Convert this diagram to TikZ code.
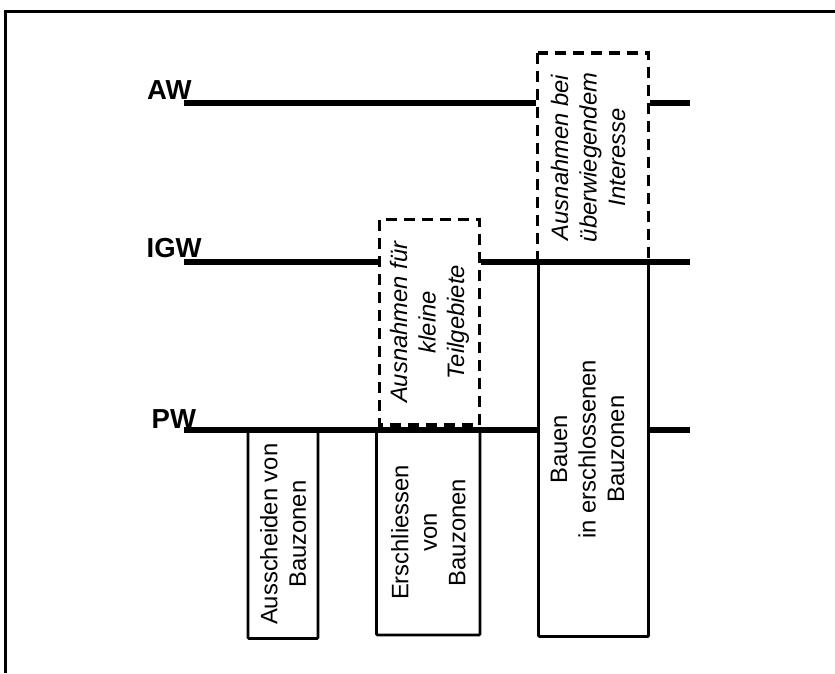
\documentclass[tikz,border=0pt]{standalone}
\usepackage{fontspec}
\setmainfont{Liberation Sans}
\begin{document}
\begin{tikzpicture}[x=1pt,y=-1pt,
  level/.style={line width=6pt},
  frameline/.style={line width=3pt},
  solidbox/.style={draw, line width=2.8pt, fill=white, rounded corners=1pt, rotate=90,
    align=center, inner sep=0pt, font=\fontsize{23.8}{28.5}\selectfont},
  dashbox/.style={draw, line width=3.5pt, dash pattern=on 11pt off 7pt, fill=white, rotate=90,
    align=center, inner sep=0pt, font=\fontsize{23.8}{28.5}\selectfont\itshape},
  lbl/.style={anchor=base west, inner sep=0pt, font=\fontsize{27.5}{30}\selectfont\bfseries}]
\useasboundingbox (0,0) rectangle (835,673);
% frame
\coordinate (fTR) at (835,11);
\coordinate (fTL) at (5.5,11);
\coordinate (fBL) at (5.5,673);
\draw[frameline] (fTR) -- (fTL) -- (fBL);
% boxes
\node[solidbox, minimum width=208.5pt, minimum height=70pt] (aus) at (283,534.25) {Ausscheiden von\\Bauzonen};
\node[solidbox, minimum width=205pt, minimum height=103.5pt] (ers) at (428.25,532.5) {Erschliessen\\von\\Bauzonen};
\node[solidbox, text depth=12pt, minimum width=374.5pt, minimum height=110pt] (bau) at (593.5,449.25) {Bauen\\in erschlossenen\\Bauzonen};
\node[dashbox, text depth=10pt, minimum width=209pt, minimum height=111pt] (ex1) at (593,157.5) {Ausnahmen bei\\überwiegendem\\Interesse};
\node[dashbox, minimum width=205.5pt, minimum height=100pt] (ex2) at (429.5,322.25) {Ausnahmen für\\kleine\\Teilgebiete};
% levels
\coordinate (awL) at (184,102.5); \coordinate (awR) at (690,102.5);
\coordinate (igL) at (184,262);   \coordinate (igR) at (690,262);
\coordinate (pwL) at (184,430);   \coordinate (pwR) at (690,430);
\draw[level] (awL) -- (awL -| ex1.north);
\draw[level] (awL -| ex1.south) -- (awR);
\draw[level] (igL) -- (igL -| ex2.north);
\draw[level] (igL -| ex2.south) -- (igR);
\draw[level] (pwL) -- (pwL -| bau.north);
\draw[level] (pwL -| bau.south) -- (pwR);
% labels
\node[lbl] (aw) at (147,99) {AW};
\node[lbl] (igw) at (146.5,257) {IGW};
\node[lbl] (pw) at (151.5,428) {PW};
\end{tikzpicture}
\end{document}
